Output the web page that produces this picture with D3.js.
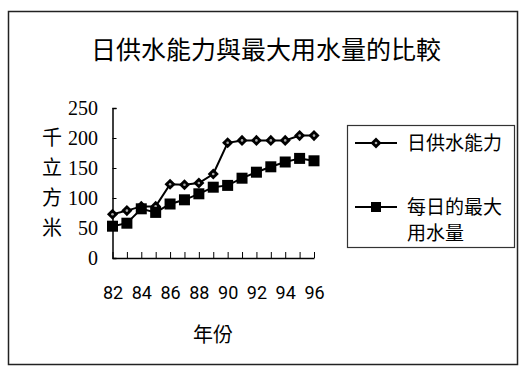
<!DOCTYPE html>
<html>
<head>
<meta charset="utf-8">
<script src="https://cdn.jsdelivr.net/npm/d3@7"></script>
<style>
  body { margin: 0; background: #fff; }
  svg { display: block; }
</style>
</head>
<body>
<svg id="chart" width="523" height="375"></svg>
<script>
const years = [82, 83, 84, 85, 86, 87, 88, 89, 90, 91, 92, 93, 94, 95, 96];
const yearLabels = [82, 84, 86, 88, 90, 92, 94, 96];
const supply = [73, 79, 86, 86, 123, 122, 125, 140, 192, 196, 196, 196, 196, 204, 204];
const maxUse = [53, 58, 82, 76, 90, 97, 107, 118, 121, 133, 143, 152, 160, 166, 162];
const yTicks = [0, 50, 100, 150, 200, 250];
const seriesNames = ["日供水能力", "每日的最大用水量"];

const svg = d3.select("#chart");
const cjk = "'Noto Sans CJK TC', 'Noto Sans CJK SC', sans-serif";

// outer frame
svg.append("rect")
  .attr("x", 8.5).attr("y", 11.5)
  .attr("width", 509).attr("height", 353)
  .attr("fill", "none").attr("stroke", "#222").attr("stroke-width", 1.5);

svg.append("text")
  .attr("x", 266).attr("y", 59)
  .attr("text-anchor", "middle")
  .style("font-family", cjk)
  .style("font-size", "25px")
  .text("日供水能力與最大用水量的比較");

const x = d3.scalePoint().domain(years).range([112.5, 314]);
const y = d3.scaleLinear().domain([0, 250]).range([258, 108]);

// y axis
const gy = svg.append("g")
  .attr("transform", "translate(112.5,0)")
  .call(d3.axisRight(y).tickValues(yTicks).tickSize(4).tickFormat(""));
gy.select(".domain").attr("stroke-width", 1.5);

svg.append("g").selectAll("text")
  .data(yTicks)
  .enter()
  .append("text")
  .attr("x", 98)
  .attr("y", (d) => y(d))
  .attr("dy", "0.36em")
  .attr("text-anchor", "end")
  .style("font-family", "'Liberation Serif', serif")
  .style("font-size", "20px")
  .text((d) => d);

// x axis: ticks point up into the plot
const gx = svg.append("g")
  .attr("transform", "translate(0,258)")
  .call(d3.axisBottom(x).tickSizeInner(-6).tickSizeOuter(0).tickFormat(""));
gx.select(".domain").attr("stroke-width", 1.5);

svg.append("g")
  .attr("transform", "translate(0,258)")
  .call(d3.axisBottom(x).tickValues(yearLabels).tickSize(0).tickPadding(28))
  .call((g) => g.select(".domain").remove())
  .selectAll("text")
  .style("font-family", "'Liberation Sans Narrow', 'Roboto', sans-serif")
  .style("font-size", "18px");

svg.append("text")
  .attr("x", 213).attr("y", 342)
  .attr("text-anchor", "middle")
  .style("font-family", cjk)
  .style("font-size", "20px")
  .text("年份");

// y title, one character per line
svg.append("g").selectAll("text")
  .data("千立方米".split(""))
  .enter()
  .append("text")
  .attr("x", 52)
  .attr("y", (d, i) => 145 + i * 30)
  .attr("text-anchor", "middle")
  .style("font-family", cjk)
  .style("font-size", "20px")
  .text((d) => d);

const line = d3.line()
  .x((d, i) => x(years[i]))
  .y((d) => y(d));

svg.append("path")
  .datum(supply)
  .attr("d", line)
  .attr("fill", "none").attr("stroke", "#000").attr("stroke-width", 2);

svg.append("path")
  .datum(maxUse)
  .attr("d", line)
  .attr("fill", "none").attr("stroke", "#000").attr("stroke-width", 2);

// square turned 45 degrees, like the spreadsheet diamond marker
const diamond = d3.symbol().type(d3.symbolSquare).size(62);

function drawDiamond(g) {
  g.append("path").attr("d", diamond).attr("transform", "rotate(45)").attr("fill", "#000");
  g.append("circle").attr("r", 1.3).attr("fill", "#aaa");
}

svg.append("g").selectAll("g")
  .data(supply)
  .enter()
  .append("g")
  .attr("transform", (d, i) => `translate(${x(years[i])},${y(d)})`)
  .each(function () { drawDiamond(d3.select(this)); });

svg.append("g").selectAll("rect")
  .data(maxUse)
  .enter()
  .append("rect")
  .attr("x", (d, i) => x(years[i]) - 5.5)
  .attr("y", (d) => y(d) - 5.5)
  .attr("width", 11).attr("height", 11)
  .attr("fill", "#000");

// legend
const lg = svg.append("g");
lg.append("rect")
  .attr("x", 347.5).attr("y", 125.5)
  .attr("width", 167).attr("height", 122)
  .attr("fill", "none").attr("stroke", "#333").attr("stroke-width", 1.2);

lg.append("line")
  .attr("x1", 355).attr("x2", 397).attr("y1", 143).attr("y2", 143)
  .attr("stroke", "#000").attr("stroke-width", 2);
drawDiamond(lg.append("g").attr("transform", "translate(376,143)"));
lg.append("text")
  .attr("x", 407).attr("y", 143).attr("dy", "0.36em")
  .style("font-family", cjk).style("font-size", "19px")
  .text(seriesNames[0]);

lg.append("line")
  .attr("x1", 355).attr("x2", 397).attr("y1", 207).attr("y2", 207)
  .attr("stroke", "#000").attr("stroke-width", 2);
lg.append("rect")
  .attr("x", 371).attr("y", 202).attr("width", 10).attr("height", 10)
  .attr("fill", "#000");
lg.append("text")
  .attr("x", 407).attr("y", 207).attr("dy", "0.36em")
  .style("font-family", cjk).style("font-size", "19px")
  .text(seriesNames[1].slice(0, 5));
lg.append("text")
  .attr("x", 407).attr("y", 233).attr("dy", "0.36em")
  .style("font-family", cjk).style("font-size", "19px")
  .text(seriesNames[1].slice(5));
</script>
</body>
</html>
